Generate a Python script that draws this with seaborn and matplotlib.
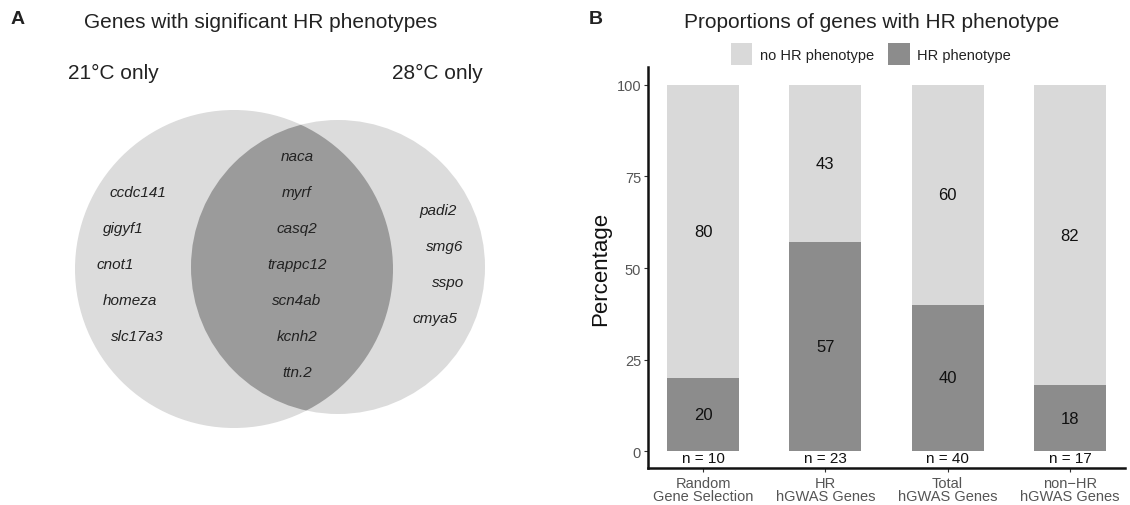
import matplotlib
matplotlib.use("Agg")
import matplotlib.pyplot as plt
from matplotlib.patches import Circle
import numpy as np
import pandas as pd
import seaborn as sns

# ---- data ----
genes_21_only = ["ccdc141", "gigyf1", "cnot1", "homeza", "slc17a3"]
genes_shared = ["naca", "myrf", "casq2", "trappc12", "scn4ab", "kcnh2", "ttn.2"]
genes_28_only = ["padi2", "smg6", "sspo", "cmya5"]

categories = ["Random\nGene Selection", "HR\nhGWAS Genes", "Total\nhGWAS Genes", "non\u2212HR\nhGWAS Genes"]
hr_pct = [20, 57, 40, 18]
no_hr_pct = [80, 43, 60, 82]
n_genes = [10, 23, 40, 17]

LIGHT = "#d9d9d9"
DARK = "#8c8c8c"
VENN_LIGHT = "#dcdcdc"
VENN_DARK = "#9b9b9b"

sns.set_theme(style="white")
plt.rcParams["font.family"] = ["Liberation Sans", "DejaVu Sans"]

W, H = 1130, 506
fig = plt.figure(figsize=(W / 100, H / 100), dpi=100)

# ---- panel A: Venn diagram in pixel coordinates ----
axA = fig.add_axes([0, 0, 565 / W, 1])
axA.set_xlim(0, 565)
axA.set_ylim(H, 0)
axA.axis("off")

left_c = Circle((234, 270), 159, facecolor=VENN_LIGHT, edgecolor="none")
right_c = Circle((338, 268), 147, facecolor=VENN_LIGHT, edgecolor="none")
axA.add_patch(left_c)
axA.add_patch(right_c)
overlap = Circle((338, 268), 147, facecolor=VENN_DARK, edgecolor="none")
axA.add_patch(overlap)
overlap.set_clip_path(left_c)

gene_fs = 11
for i, g in enumerate(genes_shared):
    axA.text(297, 157 + 36 * i, g, style="italic", ha="center", va="center",
             fontsize=gene_fs, color="#222222")
left_x = [138, 123, 115, 130, 137]
for i, g in enumerate(genes_21_only):
    axA.text(left_x[i], 193 + 36 * i, g, style="italic", ha="center", va="center",
             fontsize=gene_fs, color="#222222")
right_x = [438, 445, 448, 435]
for i, g in enumerate(genes_28_only):
    axA.text(right_x[i], 211 + 36 * i, g, style="italic", ha="center", va="center",
             fontsize=gene_fs, color="#222222")

axA.text(113, 73, "21\u00b0C only", ha="center", va="center", fontsize=15, color="#222222")
axA.text(437, 73, "28\u00b0C only", ha="center", va="center", fontsize=15, color="#222222")

fig.text(261 / W, 1 - 22 / H, "Genes with significant HR phenotypes", ha="center",
         va="center", fontsize=15, color="#222222")
fig.text(18 / W, 1 - 20 / H, "A", ha="center", va="center", fontsize=14,
         fontweight="bold", color="#222222")

# ---- panel B: stacked percentage bars ----
axB = fig.add_axes([648 / W, (H - 469) / H, (1125 - 648) / W, (469 - 68) / H])
df = pd.DataFrame({"category": categories, "hr": hr_pct, "no_hr": no_hr_pct, "n": n_genes})
df["total"] = df["hr"] + df["no_hr"]

sns.barplot(data=df, x="category", y="total", color=LIGHT, width=0.59,
            saturation=1, linewidth=0, ax=axB, label="no HR phenotype")
sns.barplot(data=df, x="category", y="hr", color=DARK, width=0.59,
            saturation=1, linewidth=0, ax=axB, label="HR phenotype")

for i, row in df.iterrows():
    axB.text(i, row["hr"] / 2, f"{row['hr']}", ha="center", va="center",
             fontsize=12, color="#111111")
    axB.text(i, row["hr"] + row["no_hr"] / 2, f"{row['no_hr']}", ha="center",
             va="center", fontsize=12, color="#111111")
    axB.text(i, -1.9, f"n = {row['n']}", ha="center", va="center",
             fontsize=11, color="#111111")

axB.set_xlim(-0.45, 3.45)
axB.set_ylim(-4.6, 104.9)
axB.set_yticks([0, 25, 50, 75, 100])
axB.set_xlabel("")
axB.set_ylabel("Percentage", fontsize=16, color="#111111", labelpad=4)
axB.tick_params(axis="both", which="both", length=3, width=0.8, color="#333333",
                labelsize=10.5, labelcolor="#555555", direction="out",
                bottom=True, left=True, pad=2)
axB.tick_params(axis="x", pad=3)
for lbl in axB.get_xticklabels():
    lbl.set_linespacing(0.9)
sns.despine(ax=axB)
for side in ("left", "bottom"):
    axB.spines[side].set_linewidth(1.8)
    axB.spines[side].set_color("#111111")

leg = axB.legend(loc="center", bbox_to_anchor=((871 - 648) / 477, 1 + (68 - 55) / 401),
                 ncol=2, frameon=False, fontsize=10.5, handlelength=1.45,
                 handleheight=1.9, handletextpad=0.5, columnspacing=1.0, borderpad=0)
for t in leg.get_texts():
    t.set_color("#222222")

fig.text(872 / W, 1 - 22 / H, "Proportions of genes with HR phenotype", ha="center",
         va="center", fontsize=15, color="#222222")
fig.text(596 / W, 1 - 20 / H, "B", ha="center", va="center", fontsize=14,
         fontweight="bold", color="#222222")

fig.savefig("out.png", dpi=100)
